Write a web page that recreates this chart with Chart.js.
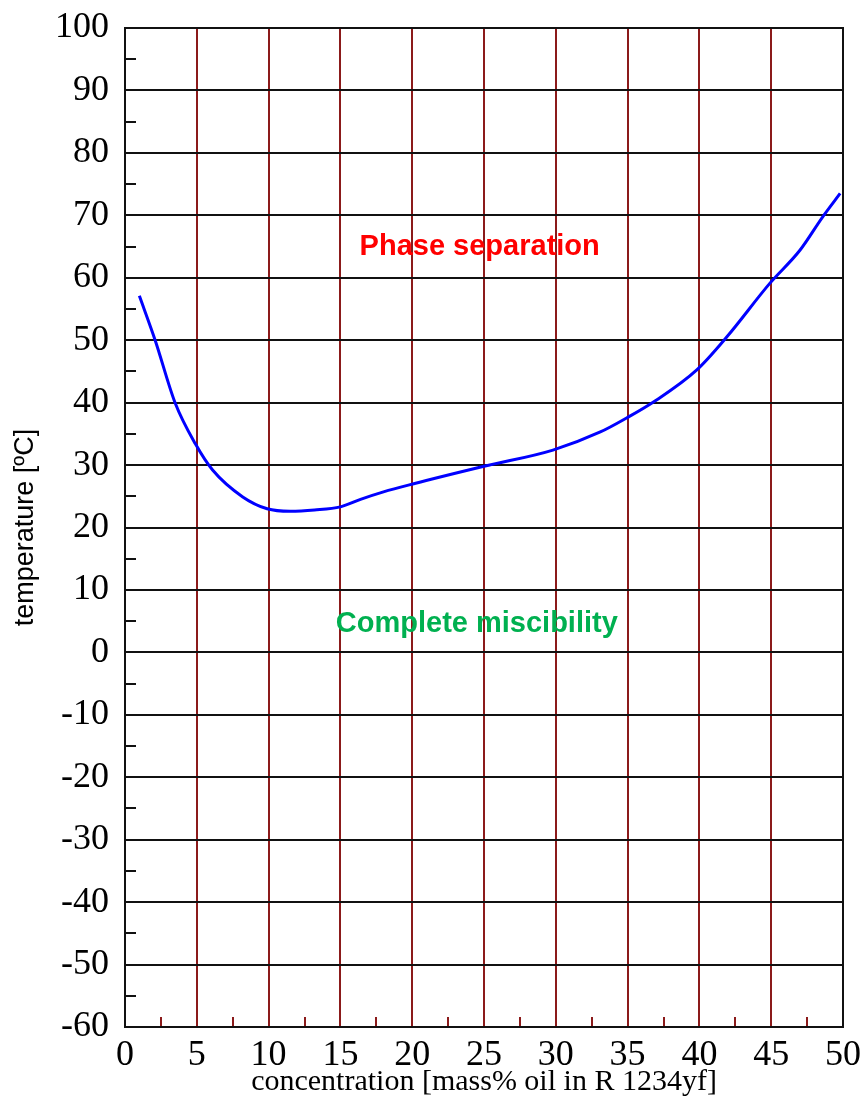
<!DOCTYPE html>
<html>
<head>
<meta charset="utf-8">
<script src="https://cdn.jsdelivr.net/npm/chart.js@4.4.1/dist/chart.umd.min.js"></script>
<style>
  html, body { margin: 0; padding: 0; background: #fff; }
  #wrap { width: 864px; height: 1113px; }
</style>
</head>
<body>
<div id="wrap"><canvas id="chart"></canvas></div>
<script>
// miscibility limit
const concentration = [1.0, 2.1, 3.5, 4.9, 6.1, 8.2, 9.9, 11.5, 13.2, 15.0, 16.4, 18.0, 20.1, 25.0, 29.8, 33.1, 34.9, 36.8, 39.8, 41.9, 44.9, 47.0, 48.6, 49.8];
const temperature = [57.1, 50.0, 39.9, 33.4, 29.2, 24.9, 23.0, 22.6, 22.8, 23.3, 24.5, 25.7, 27.0, 29.8, 32.4, 35.3, 37.5, 40.1, 45.2, 50.5, 59.1, 64.4, 69.8, 73.5];

const xMinorTicks = [2.5, 7.5, 12.5, 17.5, 22.5, 27.5, 32.5, 37.5, 42.5, 47.5];
const yMinorTicks = [95, 85, 75, 65, 55, 45, 35, 25, 15, 5, -5, -15, -25, -35, -45, -55];

const regionLabels = ['Phase separation', 'Complete miscibility'];
const regionX = [24.7, 24.5];
const regionY = [64.9, 4.6];
const regionColors = ['#ff0000', '#00b050'];

const GRID_RED = '#8b1a1a';
const SERIF = '"Liberation Serif", "Times New Roman", serif';
const SANS = '"Liberation Sans", Arial, sans-serif';

const extrasPlugin = {
  id: 'extras',
  afterDraw(chart) {
    const { ctx, chartArea: area, scales: { x, y } } = chart;
    ctx.save();
    ctx.lineWidth = 2;

    ctx.strokeStyle = GRID_RED;
    for (const v of xMinorTicks) {
      const px = Math.round(x.getPixelForValue(v));
      ctx.beginPath();
      ctx.moveTo(px, area.bottom);
      ctx.lineTo(px, area.bottom - 10);
      ctx.stroke();
    }

    ctx.strokeStyle = '#111';
    for (const v of yMinorTicks) {
      const py = Math.round(y.getPixelForValue(v));
      ctx.beginPath();
      ctx.moveTo(area.left, py);
      ctx.lineTo(area.left + 11, py);
      ctx.stroke();
    }

    ctx.strokeRect(area.left, area.top, area.right - area.left, area.bottom - area.top);

    ctx.font = 'bold 29px ' + SANS;
    ctx.textAlign = 'center';
    ctx.textBaseline = 'middle';
    regionLabels.forEach((txt, i) => {
      ctx.fillStyle = regionColors[i];
      ctx.fillText(txt, x.getPixelForValue(regionX[i]), y.getPixelForValue(regionY[i]));
    });
    ctx.restore();
  },
};

const points = concentration.map((c, i) => ({ x: c, y: temperature[i] }));

new Chart(document.getElementById('chart'), {
  type: 'line',
  data: {
    datasets: [{
      data: points,
      borderColor: '#0000ff',
      borderWidth: 3,
      pointRadius: 0,
      cubicInterpolationMode: 'monotone',
      fill: false,
    }],
  },
  options: {
    responsive: true,
    maintainAspectRatio: false,
    animation: false,
    layout: { padding: { top: 28, right: 21, left: 0, bottom: 0 } },
    plugins: { legend: { display: false }, tooltip: { enabled: false } },
    scales: {
      x: {
        type: 'linear',
        min: 0,
        max: 50,
        afterFit(scale) {
          scale.height = 86;
          scale.paddingLeft = 0;
          scale.paddingRight = 0;
        },
        ticks: {
          stepSize: 5,
          padding: 7,
          color: '#000',
          font: { family: SERIF, size: 36 },
          maxRotation: 0,
        },
        grid: { color: GRID_RED, lineWidth: 2, drawTicks: false },
        border: { color: '#111', width: 2 },
        title: {
          display: true,
          text: 'concentration [mass% oil in R 1234yf]',
          color: '#000',
          font: { family: SERIF, size: 30 },
          padding: { top: 0, bottom: 13 },
        },
      },
      y: {
        min: -60,
        max: 100,
        afterFit(scale) {
          scale.width = 125;
          scale.paddingTop = 0;
          scale.paddingBottom = 0;
        },
        ticks: {
          stepSize: 10,
          padding: 16,
          color: '#000',
          font: { family: SERIF, size: 36 },
        },
        grid: { color: '#111', lineWidth: 2, drawTicks: false },
        border: { color: '#111', width: 2 },
        title: {
          display: true,
          text: 'temperature [ºC]',
          color: '#000',
          font: { family: SANS, size: 27 },
          padding: { top: 9, bottom: 0 },
        },
      },
    },
  },
  plugins: [extrasPlugin],
});
</script>
</body>
</html>
